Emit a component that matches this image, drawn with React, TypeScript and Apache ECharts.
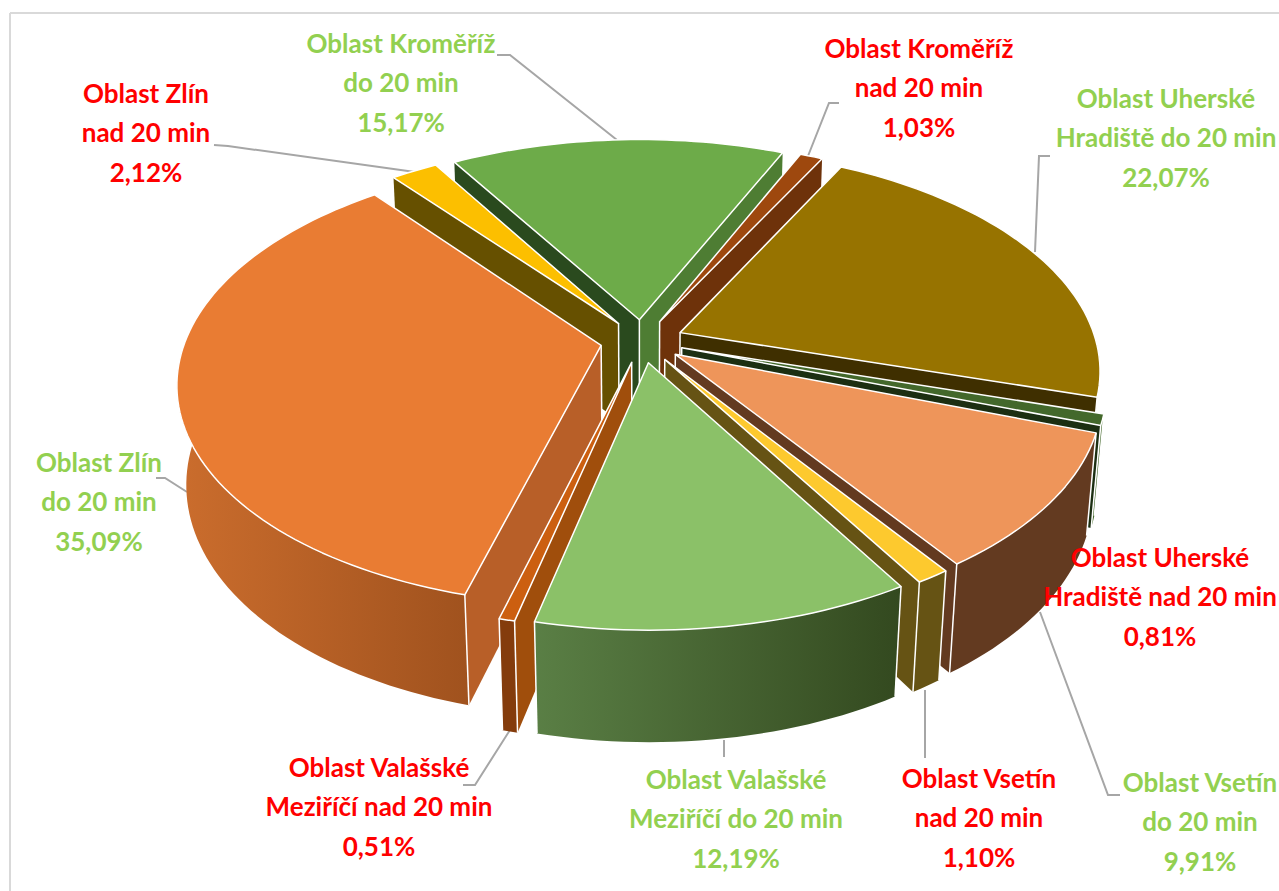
import React, { useEffect, useRef } from "react";
import * as echarts from "echarts";

// ---- data ----
const categories = [
  "Oblast Kroměříž\ndo 20 min",
  "Oblast Kroměříž\nnad 20 min",
  "Oblast Uherské\nHradiště do 20 min",
  "Oblast Uherské\nHradiště nad 20 min",
  "Oblast Vsetín\ndo 20 min",
  "Oblast Vsetín\nnad 20 min",
  "Oblast Valašské\nMeziříčí do 20 min",
  "Oblast Valašské\nMeziříčí nad 20 min",
  "Oblast Zlín\ndo 20 min",
  "Oblast Zlín\nnad 20 min",
];
const values = [15.17, 1.03, 22.07, 0.81, 9.91, 1.1, 12.19, 0.51, 35.09, 2.12];

// ---- styles ----
const topColors = ["#6dab49", "#9e480e", "#977300", "#43682b", "#ee955a", "#fdc92e", "#8bc168", "#cc5f10", "#e97c33", "#fcbf00"];
const startFaces = ["#2a4a1e", "#6e320a", "#6b5000", "#2a4a1e", "#633a20", "#665314", "#3a5226", "#a04e0c", "#b85f28", "#665000"];
const endFaces = ["#4e7d33", "#6e320a", "#3f2f00", "#1c2f12", "#633a20", "#665314", "#3a5226", "#a04e0c", "#b85f28", "#665000"];
const wallLeft = ["#4e7d33", "#843c0c", "#3f2f00", "#43682b", "#633a20", "#665314", "#5a7f45", "#843c0c", "#cb6d2d", "#665000"];
const wallRight = ["#4e7d33", "#843c0c", "#3f2f00", "#43682b", "#633a20", "#665314", "#33491f", "#843c0c", "#a0521e", "#665000"];
const isLong = [true, false, true, false, true, false, true, false, true, false];
const GREEN_TEXT = "#92d050";
const RED_TEXT = "#ff0000";
const LEADER = "#a6a6a6";

// ---- layout ----
const CX = 642, CY = 341, RX = 416, RY = 216, PERSP = 0.163, DEPTH = 100, ZP = 0.02;
const EXPLODE = 0.1, START_DEG = -31, WALL_CUTOFF = 0.12;
const labelAt: number[][] = [
  [401, 82], [919, 87], [1166, 137], [1160, 596], [1200, 821],
  [979, 817], [736, 818], [379, 806], [99, 501], [146, 132],
];
const leaders: number[][][] = [
  [[497, 55], [510, 55], [617, 140]],
  [[839, 103], [829, 103], [808, 156]],
  [[1050, 156], [1039, 156], [1035, 252]],
  [[1120, 795], [1108, 795], [1040, 612]],
  [[925, 690], [925, 758]],
  [[724, 740], [724, 757]],
  [[463, 785], [475, 785], [510, 730]],
  [[156, 478], [165, 478], [187, 492]],
  [[214, 145], [228, 146], [415, 172]],
];

const total = values.reduce((a, b) => a + b, 0);
const rad = (d: number) => (d * Math.PI) / 180;
const angles: number[][] = [];
{
  let a = START_DEG;
  for (const v of values) {
    const b = a + (v / total) * 360;
    angles.push([a, b]);
    a = b;
  }
}
const midOf = (i: number) => rad((angles[i][0] + angles[i][1]) / 2);
const paintOrder = values.map((_, i) => i).sort((p, q) => Math.cos(midOf(q)) - Math.cos(midOf(p)));

function project(x: number, y: number, z: number) {
  const w = 1 + PERSP * y + ZP * z;
  return [CX + (x * RX) / w, CY + (-y * RY + z * DEPTH) / w];
}

function renderSlice(_: any, api: any) {
  const i = api.value(1) as number;
  const [a0, a1] = angles[i];
  const m = midOf(i);
  const ox = EXPLODE * Math.sin(m), oy = EXPLODE * Math.cos(m);
  const rim = (deg: number, z: number) => project(ox + Math.sin(rad(deg)), oy + Math.cos(rad(deg)), z);
  const apex = (z: number) => project(ox, oy, z);
  const n = Math.max(2, Math.ceil((a1 - a0) / 1.5));
  const top: number[][] = [], wallTop: number[][] = [], wallBottom: number[][] = [];
  for (let k = 0; k <= n; k++) {
    const d = a0 + ((a1 - a0) * k) / n;
    top.push(rim(d, 0));
    if (Math.cos(rad(d)) < WALL_CUTOFF) {
      wallTop.push(rim(d, 0));
      wallBottom.push(rim(d, 1));
    }
  }
  const white = { stroke: "#ffffff", lineWidth: 1.5 };
  const faceVisible = (deg: number) => {
    // a radial face shows when the downward extrusion falls on the far side of the edge from the slice's top
    const p = apex(0), q = rim(deg, 0), inner = rim((a0 + a1) / 2, 0);
    const ex = q[0] - p[0], ey = q[1] - p[1];
    const side = ex * (inner[1] - p[1]) - ey * (inner[0] - p[0]);
    const down = ex * 1;
    return side * down < 0;
  };
  const face = (deg: number, fill: string) => ({
    type: "polygon",
    shape: { points: [apex(0), rim(deg, 0), rim(deg, 1), apex(1)] },
    style: { fill },
  });
  const edge = (p: number[], q: number[]) => ({
    type: "line",
    shape: { x1: p[0], y1: p[1], x2: q[0], y2: q[1] },
    style: white,
  });
  const children: any[] = [];
  if (faceVisible(a1)) children.push(face(a1, endFaces[i]));
  if (faceVisible(a0)) children.push(face(a0, startFaces[i]));
  children.push(edge(apex(0), apex(1)));
  if (wallTop.length > 1) {
    children.push({
      type: "polygon",
      shape: { points: [...wallTop, ...wallBottom.slice().reverse()] },
      style: {
        fill: new echarts.graphic.LinearGradient(0, 0, 1, 0, [
          { offset: 0, color: wallLeft[i] },
          { offset: 1, color: wallRight[i] },
        ]),
      },
    });
  }
  if (Math.cos(rad(a0)) < 0.1) children.push(edge(rim(a0, 0), rim(a0, 1)));
  if (Math.cos(rad(a1)) < 0.1) children.push(edge(rim(a1, 0), rim(a1, 1)));
  children.push({
    type: "polygon",
    shape: { points: [apex(0), ...top] },
    style: { fill: topColors[i], stroke: "#ffffff", lineWidth: 1.5, lineJoin: "round" },
  });
  return { type: "group", children };
}

export default function App() {
  const ref = useRef<HTMLDivElement>(null);
  useEffect(() => {
    const chart = echarts.init(ref.current!, undefined, { renderer: "svg" });
    const graphicEls: any[] = [
      { type: "line", z: 0, shape: { x1: 10, y1: 13, x2: 1279, y2: 13 }, style: { stroke: "#d9d9d9", lineWidth: 2 } },
      { type: "line", z: 0, shape: { x1: 10, y1: 13, x2: 10, y2: 891 }, style: { stroke: "#d9d9d9", lineWidth: 2 } },
      ...leaders.map((pts) => ({
        type: "polyline",
        z: 0,
        shape: { points: pts },
        style: { stroke: LEADER, lineWidth: 2, fill: "none" },
      })),
      ...categories.map((c, i) => ({
        type: "text",
        z: 10,
        x: labelAt[i][0],
        y: labelAt[i][1],
        style: {
          text: `${c}\n${values[i].toFixed(2).replace(".", ",")}%`,
          textAlign: "center",
          textVerticalAlign: "middle",
          fontFamily: "Lato",
          fontWeight: "bold",
          fontSize: 26,
          lineHeight: 39.5,
          fill: isLong[i] ? GREEN_TEXT : RED_TEXT,
        },
      })),
    ];
    chart.setOption({
      animation: false,
      backgroundColor: "#ffffff",
      graphic: { elements: graphicEls },
      series: [
        {
          type: "custom",
          coordinateSystem: "none",
          silent: true,
          z: 2,
          renderItem: renderSlice,
          data: paintOrder.map((i) => [values[i], i]),
        },
      ],
    });
    return () => chart.dispose();
  }, []);
  return <div ref={ref} style={{ position: "fixed", left: 0, top: 0, width: 1279, height: 891 }} />;
}
